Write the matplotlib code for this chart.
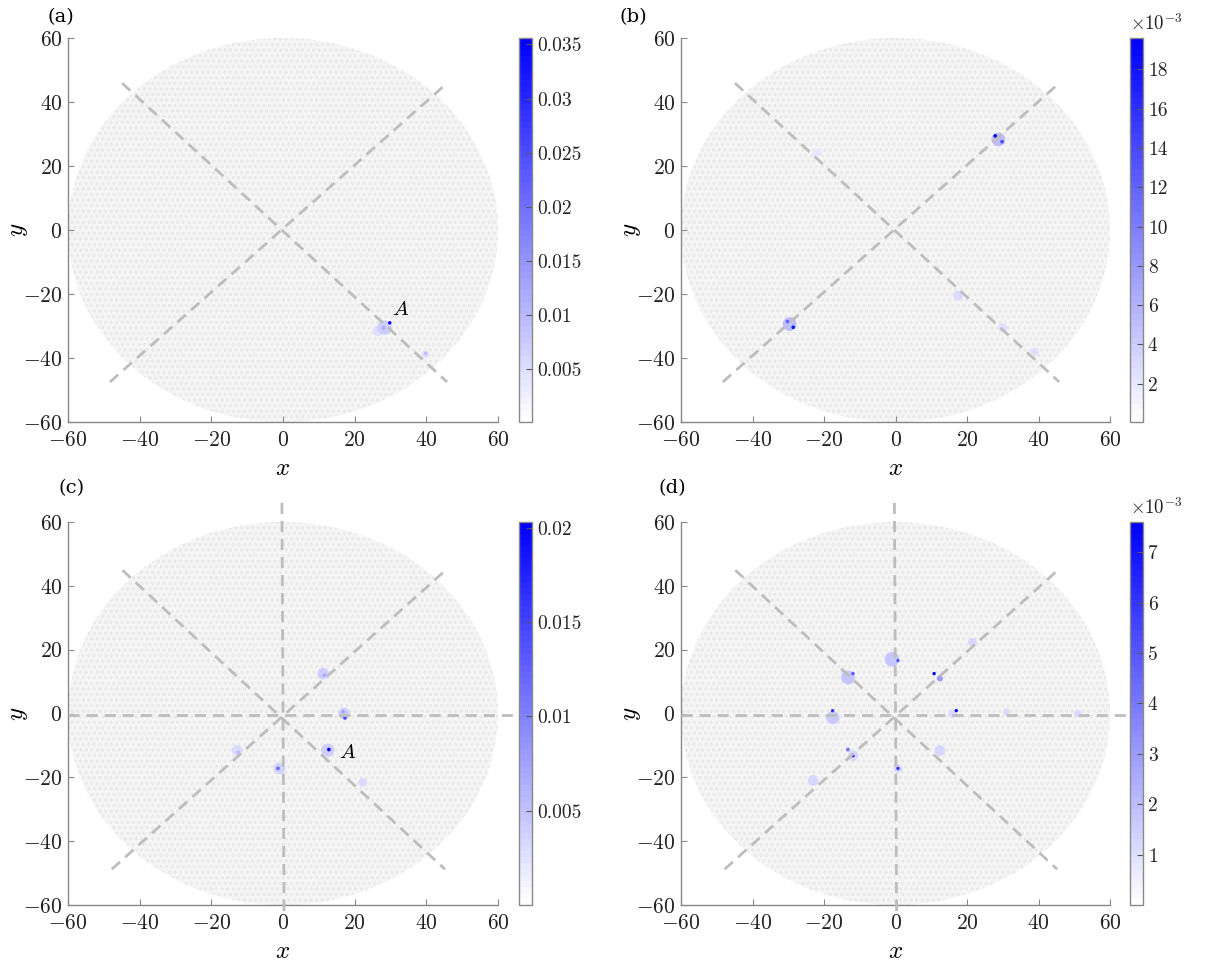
import matplotlib
matplotlib.use("Agg")
import matplotlib.pyplot as plt
from matplotlib.colors import LinearSegmentedColormap
from matplotlib.patches import Circle

plt.rcParams.update({
    "font.family": "serif",
    "font.serif": ["cmr10", "DejaVu Serif"],
    "mathtext.fontset": "cm",
    "axes.unicode_minus": False,
    "axes.formatter.use_mathtext": True,
    "font.size": 13.5,
    "hatch.linewidth": 0.5,
})

# ---- data ----------------------------------------------------------------
ticks = [-60, -40, -20, 0, 20, 40, 60]

# (a) one cluster on the anti-diagonal, marked A
a_x = [39.8, 26.5, 28.3, 39.8, 28.0, 29.8]
a_y = [-38.8, -31.5, -30.5, -38.6, -30.6, -29.0]
a_val = [0.005, 0.005, 0.007, 0.010, 0.012, 0.0356]
a_size = [30, 60, 110, 6, 8, 6]
a_lim = (0.0001, 0.0356)
a_cbticks = [0.005, 0.01, 0.015, 0.02, 0.025, 0.03, 0.035]

# (b) two clusters on the diagonal
b_x = [-22.0, 39.0, 30.0, 17.5, 28.8, -29.6, -30.2, 29.8, -28.6, 27.9]
b_y = [24.0, -38.0, -30.5, -20.5, 28.3, -29.4, -28.6, 27.6, -30.4, 29.4]
b_val = [0.002, 0.0025, 0.0025, 0.003, 0.005, 0.005, 0.012, 0.014, 0.018, 0.0196]
b_size = [40, 30, 40, 50, 100, 100, 7, 7, 7, 7]
b_lim = (0.00005, 0.0196)
b_cbticks = [0.002, 0.004, 0.006, 0.008, 0.010, 0.012, 0.014, 0.016, 0.018]

# (c) clusters around the centre
c_x = [22.3, -12.8, 11.2, -1.0, 12.5, 17.0, -12.5, 11.5, 16.8, -1.4, 17.3, 12.8]
c_y = [-21.6, -11.6, 12.5, -17.2, -11.5, 0.0, -12.2, 12.0, 0.6, -17.2, -1.4, -11.3]
c_val = [0.003, 0.003, 0.004, 0.0035, 0.004, 0.004, 0.006, 0.007, 0.008, 0.012, 0.014, 0.0203]
c_size = [40, 60, 70, 70, 90, 70, 6, 6, 6, 7, 7, 7]
c_lim = (0.0, 0.0203)
c_cbticks = [0.005, 0.01, 0.015, 0.02]

# (d) eight clusters around the centre
d_x = [51.0, 31.0, -23.0, 21.5, 12.4, 16.0, 0.7, -11.9, -1.0, -13.3, -17.5,
       12.4, -13.3, 0.7, -11.9, -17.6, 0.7, -11.9, 17.0, 10.8]
d_y = [0.0, 0.5, -21.0, 22.3, -11.6, 0.0, -17.2, -13.2, 17.0, 11.3, -1.3,
       11.0, -11.3, 16.6, 12.5, 0.9, -17.2, -13.2, 0.9, 12.5]
d_val = [0.0011, 0.0011, 0.0012, 0.0012, 0.0012, 0.0011, 0.0012, 0.0012, 0.0017, 0.0017, 0.0016,
         0.0030, 0.0040, 0.0050, 0.0050, 0.0060, 0.0060, 0.0068, 0.0072, 0.0076]
d_size = [30, 25, 60, 40, 60, 40, 40, 60, 110, 100, 90,
          20, 8, 6, 6, 6, 6, 6, 6, 6]
d_lim = (0.0, 0.0076)
d_cbticks = [0.001, 0.002, 0.003, 0.004, 0.005, 0.006, 0.007]

# dashed guide lines as (x0, x1), (y0, y1)
ab_lines = [((-44.9, 45.8), (45.9, -47.5)),
            ((-48.3, 45.5), (-47.5, 45.6))]
cd_lines = [((-44.8, 45.2), (44.9, -48.8)),
            ((-47.8, 44.8), (-48.8, 44.3)),
            ((-60.0, 65.0), (-0.5, -0.5)),
            ((-0.3, 0.3), (66.0, -62.0))]

cmap = LinearSegmentedColormap.from_list("wb", ["#ffffff", "#0000ff"], N=64)

fig = plt.figure(figsize=(12.13, 9.65), dpi=100)
W, H = 1213, 965


def px_axes(x0, y0, x1, y1):
    return fig.add_axes([x0 / W, 1 - y1 / H, (x1 - x0) / W, (y1 - y0) / H])


def draw_panel(box, cbox, xs, ys, vals, sizes, lim, lines, cbticks, letter, letter_xy,
               scaled=False, label_a=None):
    ax = px_axes(*box)
    ax.add_patch(Circle((0, 0), 60, facecolor="#f5f5f5", edgecolor="#e8e8e8",
                        lw=0, hatch="ooo", zorder=0))
    for lx, ly in lines:
        ax.plot(lx, ly, color="#bdbdbd", lw=2.0, dashes=(4, 2.5), zorder=3,
                clip_on=False)
    sc = ax.scatter(xs, ys, c=vals, s=sizes, cmap=cmap, vmin=lim[0], vmax=lim[1],
                    edgecolors="none", zorder=2)
    ax.set_xlim(-60, 60)
    ax.set_ylim(-60, 60)
    ax.set_xticks(ticks)
    ax.set_yticks(ticks)
    for side in ("top", "right"):
        ax.spines[side].set_visible(False)
    for side in ("left", "bottom"):
        ax.spines[side].set_color("#888888")
        ax.spines[side].set_linewidth(1.0)
    ax.tick_params(direction="in", length=4, color="#888888", labelsize=15.5,
                   labelcolor="#222222")
    ax.tick_params(axis="x", pad=6)
    ax.tick_params(axis="y", pad=4)
    ax.set_xlabel("$x$", fontsize=18, labelpad=6)
    ax.set_ylabel("$y$", fontsize=18)
    ax.yaxis.set_label_coords(-38 / (box[2] - box[0]), 0.5)
    if label_a is not None:
        ax.text(label_a[0], label_a[1], "$A$", fontsize=15, zorder=4)
    fig.text(letter_xy[0] / W, 1 - letter_xy[1] / H, letter, fontsize=14,
             family="DejaVu Serif", ha="center", va="center")

    cax = px_axes(*cbox)
    cb = fig.colorbar(sc, cax=cax)
    cb.set_ticks(cbticks)
    if scaled:
        cb.set_ticklabels([f"{v * 1e3:g}" for v in cbticks])
        cax.text(0.0, 1.01, r"$\times10^{-3}$", transform=cax.transAxes,
                 fontsize=13.5, va="bottom", ha="left", color="#222222")
    else:
        cb.set_ticklabels([f"{v:g}" for v in cbticks])
    cb.outline.set_edgecolor("#888888")
    cb.outline.set_linewidth(1.0)
    cax.tick_params(direction="in", length=4, color="#555555", labelsize=14,
                    labelcolor="#222222")
    return ax


draw_panel((68, 38, 498, 422), (519, 38, 532, 422), a_x, a_y, a_val, a_size, a_lim,
           ab_lines, a_cbticks, "(a)", (61, 17), label_a=(30.5, -26.5))
draw_panel((681, 38, 1110, 422), (1130, 38, 1143, 422), b_x, b_y, b_val, b_size, b_lim,
           ab_lines, b_cbticks, "(b)", (633, 17), scaled=True)
draw_panel((68, 522, 498, 905), (519, 522, 532, 905), c_x, c_y, c_val, c_size, c_lim,
           cd_lines, c_cbticks, "(c)", (72, 488), label_a=(15.5, -14.0))
draw_panel((681, 522, 1110, 905), (1130, 522, 1143, 905), d_x, d_y, d_val, d_size, d_lim,
           cd_lines, d_cbticks, "(d)", (672, 488), scaled=True)

fig.savefig("out.png", dpi=100)
